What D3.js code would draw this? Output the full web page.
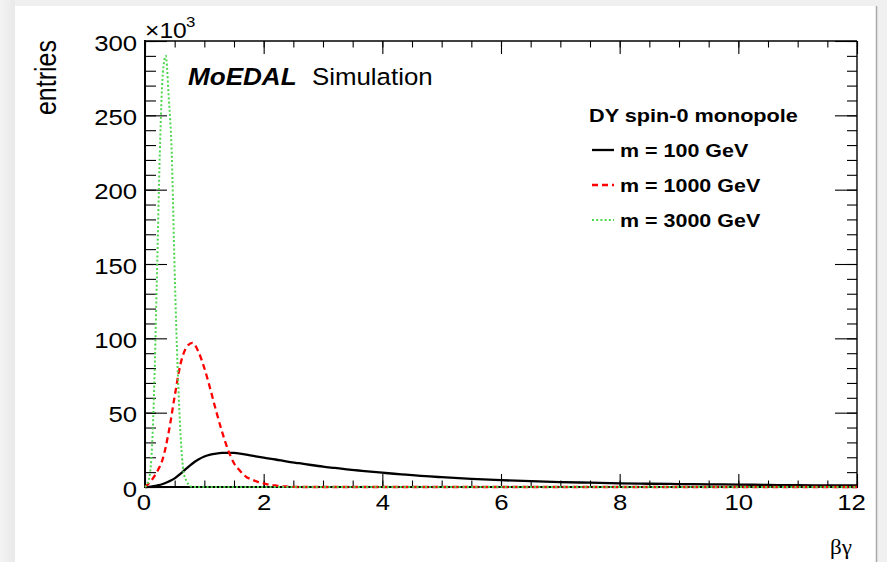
<!DOCTYPE html>
<html>
<head>
<meta charset="utf-8">
<script src="https://cdn.jsdelivr.net/npm/d3@7"></script>
<style>
  html, body { margin: 0; padding: 0; background: #f0f0f0; }
  svg { display: block; }
</style>
</head>
<body>
<svg id="chart" width="887" height="562"></svg>
<script>
// ---------------- data (entries in units of 10^3) ----------------
const seriesLabels = ["m = 100 GeV", "m = 1000 GeV", "m = 3000 GeV"];
const legendTitle = "DY spin-0 monopole";

const m100X = [0, 0.1, 0.2, 0.3, 0.4, 0.5, 0.6, 0.7, 0.8, 0.9, 1.0, 1.1, 1.2, 1.3, 1.4, 1.5, 1.6, 1.8, 2.0, 2.2, 2.4, 2.6, 2.8, 3.0, 3.2, 3.4, 3.6, 3.8, 4.0, 4.2, 4.4, 4.6, 4.8, 5.0, 5.5, 6.0, 6.5, 7.0, 7.5, 8.0, 8.5, 9.0, 9.5, 10.0, 10.5, 11.0, 11.5, 12.0];
const m100Y = [0, 0.3, 1, 2, 3.7, 5.8, 9, 12.5, 15.8, 18.5, 20.5, 21.8, 22.5, 22.9, 23, 22.9, 22.5, 21.1, 19.7, 18.5, 17.1, 16, 14.8, 13.7, 12.8, 11.9, 11.1, 10.3, 9.6, 8.9, 8.3, 7.7, 7.1, 6.6, 5.5, 4.6, 3.9, 3.3, 2.9, 2.5, 2.2, 2.0, 1.8, 1.6, 1.4, 1.2, 1.1, 1.0];

const m1000X = [0, 0.1, 0.2, 0.3, 0.4, 0.5, 0.6, 0.7, 0.8, 0.9, 1.0, 1.1, 1.2, 1.3, 1.4, 1.5, 1.6, 1.7, 1.8, 1.9, 2.0, 2.1, 2.2, 2.3, 2.4, 2.5, 2.6, 4.0, 6.0, 8.0, 10.0, 12.0];
const m1000Y = [0, 4, 10, 19, 37, 61, 83, 94, 97, 91, 80, 66, 51, 37, 25, 16, 11, 7, 5, 3.5, 2.5, 1.5, 1, 0.5, 0.3, 0.1, 0, 0, 0, 0, 0, 0];

const m3000X = [0, 0.05, 0.1, 0.15, 0.2, 0.25, 0.3, 0.35, 0.4, 0.45, 0.5, 0.55, 0.6, 0.65, 0.7, 0.75, 0.8, 2.0, 4.0, 6.0, 8.0, 10.0, 12.0];
const m3000Y = [0, 3, 15, 60, 140, 225, 278, 290, 262, 225, 145, 80, 35, 10, 4, 1, 0, 0, 0, 0, 0, 0, 0];

const xTickLabels = [0, 2, 4, 6, 8, 10, 12];
const yTickLabels = [0, 50, 100, 150, 200, 250, 300];

// ---------------- layout ----------------
const svg = d3.select("#chart");
const W = 887, H = 562;
const L = 145, R = 857, T = 41, B = 487;
const SX = 1.15;          // horizontal stretch of the text in the reference
const TSX = 1.12;         // stretch for tick labels
const FONT = "'Liberation Sans', Arial, Helvetica, sans-serif";

const x = d3.scaleLinear().domain([0, 12]).range([L, R]);
const y = d3.scaleLinear().domain([0, 300]).range([B, T]);

// background / page frame
const defs = svg.append("defs");
const grad = defs.append("linearGradient").attr("id", "shadowL").attr("x1", 0).attr("x2", 1);
grad.append("stop").attr("offset", "0%").attr("stop-color", "#f3f3f3");
grad.append("stop").attr("offset", "100%").attr("stop-color", "#e9e9e9");
svg.append("rect").attr("x", 0).attr("y", 0).attr("width", W).attr("height", H).attr("fill", "#f0f0f0");
svg.append("rect").attr("x", 0).attr("y", 0).attr("width", 15).attr("height", H).attr("fill", "url(#shadowL)");
svg.append("rect").attr("x", 15).attr("y", 6).attr("width", 861).attr("height", H - 6).attr("fill", "#ffffff");
svg.append("line").attr("x1", 876.5).attr("x2", 876.5).attr("y1", 6).attr("y2", H)
   .attr("stroke", "#a8a8a8").attr("stroke-width", 1.5);

// ---------------- axes ----------------
const TICKFS = 23;
function styleAxis(g) {
  g.select(".domain").remove();
  g.selectAll(".tick line").attr("stroke", "#000").attr("stroke-width", 1.1);
  g.selectAll("text").attr("font-family", FONT).attr("font-size", TICKFS).attr("fill", "#000");
}
const xMinor = d3.range(0, 12.001, 0.5);
const yMinor = d3.range(0, 300.001, 10);

// bottom
svg.append("g").attr("transform", `translate(0,${B})`)
  .call(d3.axisBottom(x).tickValues(xMinor).tickSize(-6.5).tickFormat(""))
  .call(styleAxis);
const gxb = svg.append("g").attr("transform", `translate(0,${B})`)
  .call(d3.axisBottom(x).tickValues(xTickLabels).tickSize(-13).tickPadding(7).tickFormat(d3.format("d")))
  .call(styleAxis);
gxb.selectAll("text").attr("transform", `scale(${TSX},1)`);
gxb.selectAll(".tick").filter(d => d === 12).select("text").attr("x", -6 / TSX);
gxb.selectAll(".tick").filter(d => d === 0).select("text").attr("x", -1.5 / TSX);

// top
svg.append("g").attr("transform", `translate(0,${T})`)
  .call(d3.axisTop(x).tickValues(xMinor).tickSize(-6.5).tickFormat(""))
  .call(styleAxis);
svg.append("g").attr("transform", `translate(0,${T})`)
  .call(d3.axisTop(x).tickValues(xTickLabels).tickSize(-13).tickFormat(""))
  .call(styleAxis);

// left
svg.append("g").attr("transform", `translate(${L},0)`)
  .call(d3.axisLeft(y).tickValues(yMinor).tickSize(-11).tickFormat(""))
  .call(styleAxis);
const gyl = svg.append("g").attr("transform", `translate(${L},0)`)
  .call(d3.axisLeft(y).tickValues(yTickLabels).tickSize(-22).tickPadding(7).tickFormat(d3.format("d")))
  .call(styleAxis);
gyl.selectAll("text").attr("transform", `scale(${TSX},1)`).attr("dy", "0.4em");

// right
svg.append("g").attr("transform", `translate(${R},0)`)
  .call(d3.axisRight(y).tickValues(yMinor).tickSize(-10).tickFormat(""))
  .call(styleAxis);
svg.append("g").attr("transform", `translate(${R},0)`)
  .call(d3.axisRight(y).tickValues(yTickLabels).tickSize(-22).tickFormat(""))
  .call(styleAxis);

// frame
svg.append("line").attr("x1", L).attr("x2", R).attr("y1", T).attr("y2", T).attr("stroke", "#000").attr("stroke-width", 1.4);
svg.append("line").attr("x1", R).attr("x2", R).attr("y1", T).attr("y2", B).attr("stroke", "#000").attr("stroke-width", 1.4);
svg.append("line").attr("x1", L).attr("x2", L).attr("y1", T - 1).attr("y2", B + 1).attr("stroke", "#000").attr("stroke-width", 2);
svg.append("line").attr("x1", L - 1).attr("x2", R + 1).attr("y1", B).attr("y2", B).attr("stroke", "#000").attr("stroke-width", 2);

// ---------------- curves ----------------
const line = d3.line().x(d => x(d[0])).y(d => y(d[1])).curve(d3.curveMonotoneX);
const series = [
  { xs: m100X,  ys: m100Y,  color: "#000000", width: 2.3, dash: null },
  { xs: m1000X, ys: m1000Y, color: "#ff0000", width: 2.3, dash: "6,4" },
  { xs: m3000X, ys: m3000Y, color: "#4fd64f", width: 2.0, dash: "2,2.2" }
];
series.forEach(s => {
  const pts = s.xs.map((v, i) => [v, s.ys[i]]);
  svg.append("path").datum(pts).attr("d", line)
    .attr("fill", "none").attr("stroke", s.color).attr("stroke-width", s.width)
    .attr("stroke-dasharray", s.dash).attr("stroke-linejoin", "round");
});

// ---------------- texts ----------------
function stext(xp, yp, str, size, opts = {}) {
  return svg.append("text")
    .attr("transform", `translate(${xp},${yp}) scale(${opts.sx || SX},1)`)
    .attr("font-family", opts.family || FONT)
    .attr("font-size", size)
    .attr("font-weight", opts.weight || "normal")
    .attr("font-style", opts.style || "normal")
    .attr("text-anchor", opts.anchor || "start")
    .attr("fill", "#000")
    .text(str);
}

// y title
svg.append("text")
  .attr("transform", `translate(56,40) scale(${SX},1) rotate(-90)`)
  .attr("font-family", FONT).attr("font-size", 25).attr("text-anchor", "end")
  .text("entries");

// x title
stext(852, 554, "βγ", 22, { family: "'Liberation Serif', 'DejaVu Serif', serif", anchor: "end", sx: 1.05 });

// ×10^3
stext(145, 38, "×10", 22, { sx: 1.12 });
stext(186, 27, "3", 15, { sx: 1.12 });

// MoEDAL Simulation
stext(188, 85, "MoEDAL", 23.5, { weight: "bold", style: "italic", sx: 1.11 });
stext(312, 85, "Simulation", 23.5, { sx: 1.1 });

// legend
stext(589, 122, legendTitle, 19, { weight: "bold", sx: 1.14 });
const legendBase = [157, 192, 227];
seriesLabels.forEach((lab, i) => {
  const s = series[i];
  svg.append("line").attr("x1", 592).attr("x2", 614)
    .attr("y1", legendBase[i] - 7).attr("y2", legendBase[i] - 7)
    .attr("stroke", s.color).attr("stroke-width", s.width).attr("stroke-dasharray", s.dash);
  stext(620, legendBase[i], lab, 19, { weight: "bold", sx: 1.13 });
});
</script>
</body>
</html>
